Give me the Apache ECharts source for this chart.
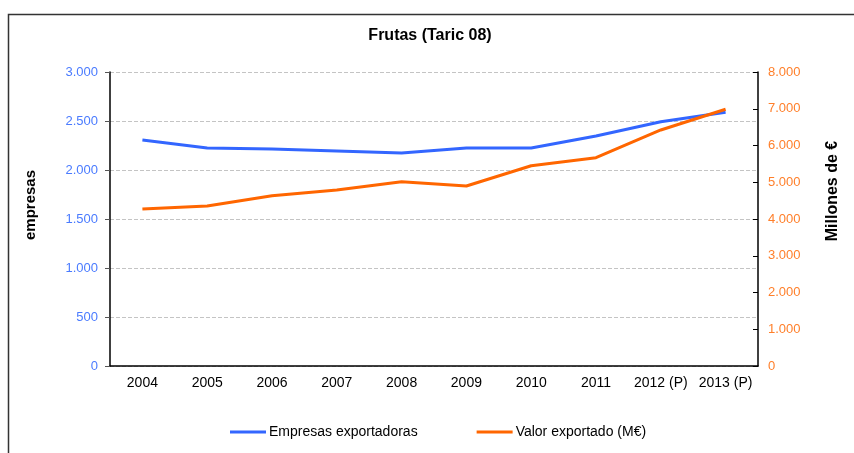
<!DOCTYPE html>
<html>
<head>
<meta charset="utf-8">
<script src="https://cdn.jsdelivr.net/npm/echarts@6/dist/echarts.min.js"></script>
<style>
  html, body { margin: 0; padding: 0; background: #fff; }
  #chart { width: 854px; height: 453px; }
</style>
</head>
<body>
<div id="chart"></div>
<script>
var years = ["2004", "2005", "2006", "2007", "2008", "2009", "2010", "2011", "2012 (P)", "2013 (P)"];
var empresas = [2305, 2224, 2214, 2194, 2173, 2224, 2224, 2347, 2493, 2589];
var valor = [4272, 4354, 4634, 4789, 5015, 4898, 5450, 5668, 6422, 6985];

var blue = "#3366FF";
var orange = "#FF6600";
var font = "'Liberation Sans', Arial, sans-serif";

function fmt(v) {
  return String(v).replace(/\B(?=(\d{3})+(?!\d))/g, ".");
}

var chart = echarts.init(document.getElementById("chart"));
chart.setOption({
  animation: false,
  textStyle: { fontFamily: font },
  title: {
    text: "Frutas (Taric 08)",
    left: 425, top: 23, textAlign: "center",
    textStyle: { fontSize: 16, fontWeight: "bold", color: "#000", fontFamily: font }
  },
  graphic: [
    { type: "rect", left: 6, top: 12, shape: { width: 870, height: 470 },
      style: { fill: "none", stroke: "#333", lineWidth: 1.5 } },
    { type: "text", x: 31, y: 205, rotation: Math.PI / 2,
      style: { text: "empresas", font: "bold 15px " + font, fill: "#000", align: "center", verticalAlign: "middle" } },
    { type: "text", x: 833, y: 191, rotation: Math.PI / 2,
      style: { text: "Millones de €", font: "bold 16px " + font, fill: "#000", align: "center", verticalAlign: "middle" } }
  ],
  legend: {
    bottom: 9, left: 225, itemGap: 59,
    itemWidth: 36, itemHeight: 3,
    icon: "rect",
    textStyle: { fontSize: 14, color: "#000", fontFamily: font, padding: [0, 0, 0, -2] },
    data: ["Empresas exportadoras", "Valor exportado (M€)"]
  },
  grid: { left: 110, right: 96, top: 72, bottom: 87 },
  xAxis: {
    type: "category",
    data: years,
    boundaryGap: true,
    axisLine: { lineStyle: { color: "#000", width: 1.5 } },
    axisTick: { length: 5, lineStyle: { color: "#000" } },
    axisLabel: { fontSize: 14, color: "#000", margin: 10, interval: 0 }
  },
  yAxis: [
    {
      type: "value", min: 0, max: 3000, interval: 500,
      axisLine: { show: true, lineStyle: { color: "#000", width: 1.5 } },
      axisTick: { show: true, length: 5, lineStyle: { color: "#555" } },
      axisLabel: { fontSize: 13, color: "#4A7BFF", margin: 12, formatter: fmt },
      splitLine: { lineStyle: { color: "#c4c4c4", type: "dashed", width: 1 } }
    },
    {
      type: "value", min: 0, max: 8000, interval: 1000,
      position: "right",
      axisLine: { show: true, lineStyle: { color: "#000", width: 1.5 } },
      axisTick: { show: true, inside: true, length: 5, lineStyle: { color: "#000" } },
      axisLabel: { fontSize: 13, color: "#FF7F2A", margin: 10, formatter: fmt },
      splitLine: { show: false }
    }
  ],
  series: [
    {
      name: "Empresas exportadoras", type: "line", yAxisIndex: 0,
      data: empresas, showSymbol: false, symbol: "none",
      lineStyle: { color: blue, width: 3 }, itemStyle: { color: blue }
    },
    {
      name: "Valor exportado (M€)", type: "line", yAxisIndex: 1,
      data: valor, showSymbol: false, symbol: "none",
      lineStyle: { color: orange, width: 3 }, itemStyle: { color: orange }
    }
  ]
});
</script>
</body>
</html>
